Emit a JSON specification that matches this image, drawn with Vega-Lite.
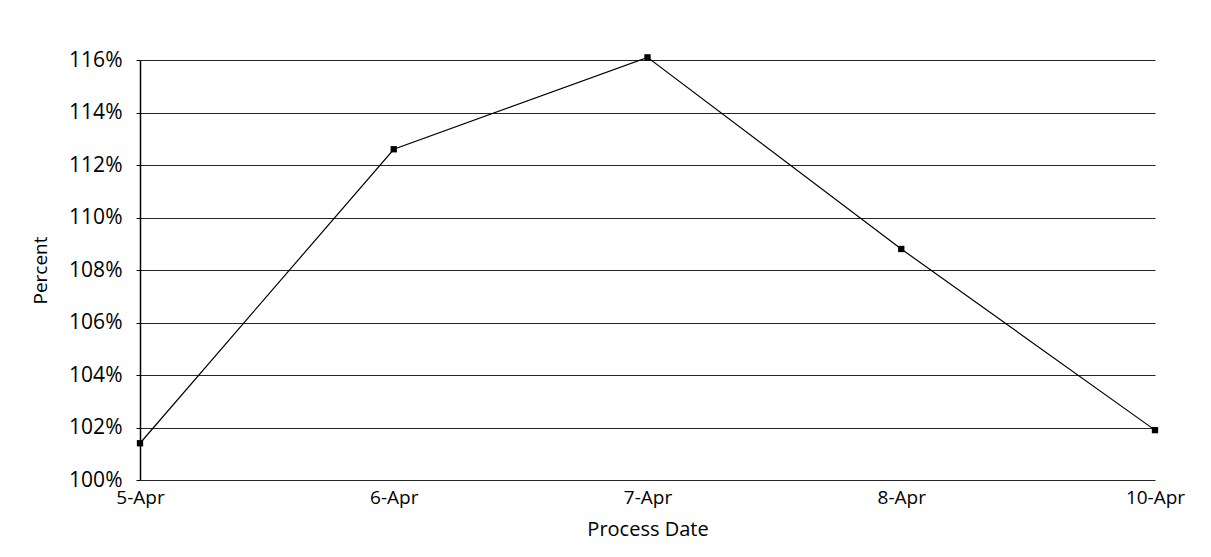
{
  "$schema": "https://vega.github.io/schema/vega-lite/v6.json",
  "autosize": "none",
  "width": 1015,
  "height": 420,
  "padding": {"left": 140, "top": 60, "right": 56, "bottom": 77},
  "background": "white",
  "config": {
    "view": {"stroke": null},
    "font": "Open Sans"
  },
  "data": {
    "values": [
      {"date": "5-Apr", "pct": 101.4},
      {"date": "6-Apr", "pct": 112.6},
      {"date": "7-Apr", "pct": 116.1},
      {"date": "8-Apr", "pct": 108.8},
      {"date": "10-Apr", "pct": 101.9}
    ]
  },
  "encoding": {
    "x": {
      "field": "date",
      "type": "ordinal",
      "sort": null,
      "scale": {"type": "point", "padding": 0},
      "axis": {
        "title": "Process Date",
        "titleFontSize": 20,
        "titleFontWeight": "normal",
        "titleColor": "black",
        "titlePadding": 12,
        "labelFontSize": 19,
        "labelColor": "black",
        "labelAngle": 0,
        "labelPadding": 8,
        "domain": false,
        "ticks": false,
        "grid": false
      }
    },
    "y": {
      "field": "pct",
      "type": "quantitative",
      "scale": {"domain": [100, 116], "nice": false, "zero": false},
      "axis": {
        "title": "Percent",
        "titleFontSize": 19,
        "titleFontWeight": "normal",
        "titleColor": "black",
        "titlePadding": 18,
        "values": [100, 102, 104, 106, 108, 110, 112, 114, 116],
        "labelExpr": "datum.value + '%'",
        "labelFontSize": 21,
        "labelColor": "black",
        "labelPadding": 14,
        "domainColor": "black",
        "domainWidth": 1.5,
        "ticks": true,
        "tickSize": 4,
        "tickColor": "black",
        "gridColor": "black",
        "gridWidth": 1,
        "gridOpacity": 0.85
      }
    }
  },
  "layer": [
    {
      "mark": {"type": "line", "color": "black", "strokeWidth": 1.2, "clip": false}
    },
    {
      "mark": {"type": "point", "shape": "square", "filled": true, "color": "black", "size": 40, "opacity": 1, "clip": false}
    }
  ]
}
